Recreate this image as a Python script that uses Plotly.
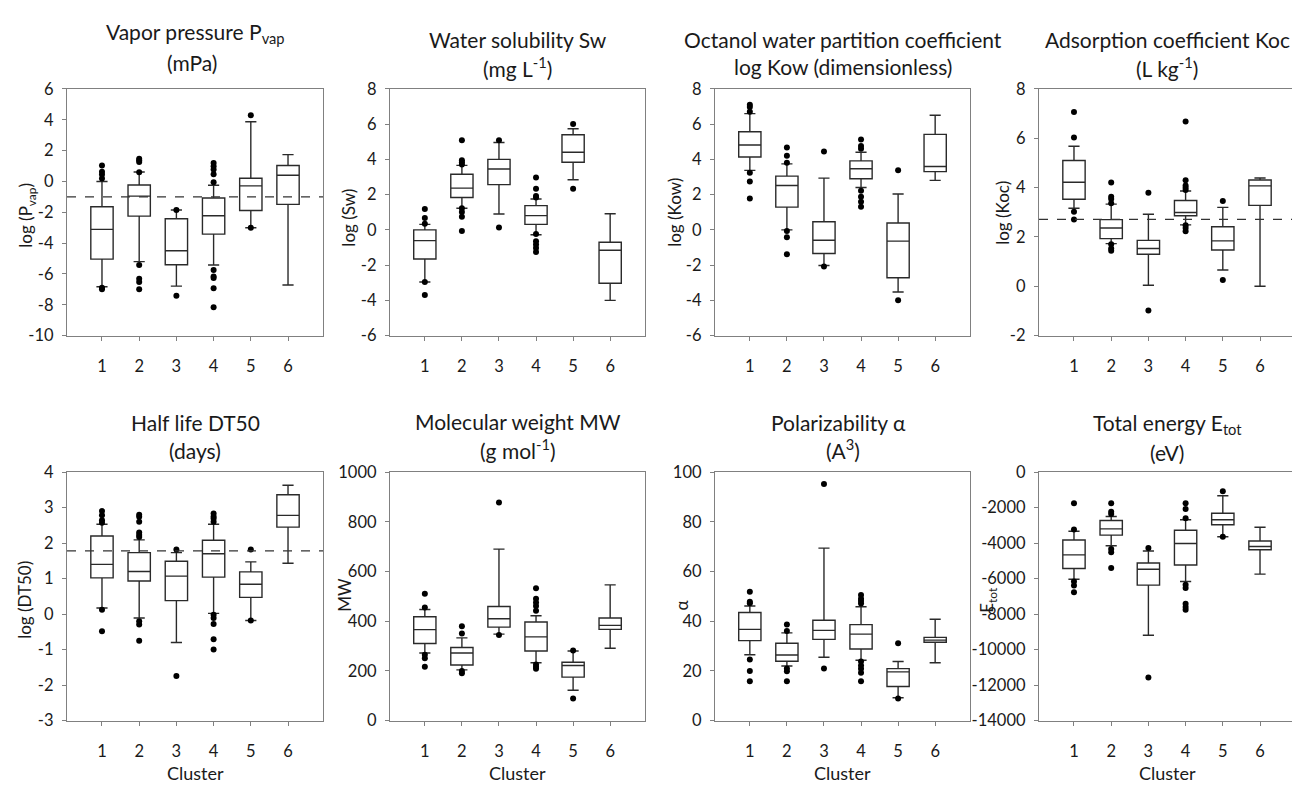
import plotly.graph_objects as go

W, H = 1292, 793
CLUSTERS = [1, 2, 3, 4, 5, 6]
CLUSTER_LABELS = ["1", "2", "3", "4", "5", "6"]

# ---- Vapor pressure (log Pvap)
PVAP_Q1 = [-5.04, -2.25, -5.40, -3.42, -1.89, -1.49]
PVAP_MED = [-3.11, -0.95, -4.50, -2.23, -0.29, 0.40]
PVAP_Q3 = [-1.64, -0.23, -2.42, -1.07, 0.21, 1.03]
PVAP_LO = [-6.83, -5.20, -6.79, -5.42, -3.00, -6.72]
PVAP_HI = [0.00, 0.61, -1.85, -0.25, 3.87, 1.74]
PVAP_OUT = [[1.03, 0.63, 0.45, 0.19, -6.90, -7.00],
            [1.47, 1.37, 1.26, 0.60, -5.42, -6.32, -6.53, -7.00],
            [-1.85, -7.42],
            [1.20, 0.99, 0.78, 0.46, -0.06, -5.74, -6.16, -6.26, -6.93, -8.17],
            [4.29, -3.00], []]
PVAP_REF = -1.0
PVAP_TICKS = [6, 4, 2, 0, -2, -4, -6, -8, -10]

# ---- Water solubility (log Sw)
SW_Q1 = [-1.65, 1.84, 2.57, 0.31, 3.84, -3.03]
SW_MED = [-0.61, 2.37, 3.46, 0.81, 4.41, -1.16]
SW_Q3 = [0.00, 3.16, 4.00, 1.38, 5.40, -0.70]
SW_LO = [-2.96, 1.23, 0.90, -0.28, 2.85, -4.00]
SW_HI = [0.31, 3.66, 4.96, 1.75, 5.74, 0.92]
SW_OUT = [[1.19, 0.68, 0.35, -2.96, -3.69],
          [5.09, 3.95, 3.84, 3.71, 1.23, 1.01, 0.74, -0.06],
          [5.09, 0.13],
          [2.98, 2.33, 1.93, 1.84, -0.24, -0.64, -0.83, -1.03, -1.25],
          [6.01, 2.33], []]
SW_TICKS = [8, 6, 4, 2, 0, -2, -4, -6]

# ---- Octanol water partition coefficient (log Kow)
KOW_Q1 = [4.14, 1.29, -1.34, 2.90, -2.72, 3.31]
KOW_MED = [4.82, 2.52, -0.59, 3.47, -0.64, 3.60]
KOW_Q3 = [5.57, 3.05, 0.46, 3.92, 0.39, 5.42]
KOW_LO = [3.38, 0.00, -2.02, 2.41, -3.53, 2.81]
KOW_HI = [6.60, 3.75, 2.94, 4.41, 2.04, 6.51]
KOW_OUT = [[7.11, 6.97, 6.71, 3.25, 2.74, 1.78],
           [4.67, 4.21, 3.81, -0.06, -0.42, -1.38],
           [4.45, -2.08],
           [5.13, 4.76, 4.60, 2.22, 1.88, 1.60, 1.32],
           [3.38, -4.00], []]
KOW_TICKS = [8, 6, 4, 2, 0, -2, -4, -6]

# ---- Adsorption coefficient (log Koc)
KOC_Q1 = [3.53, 1.93, 1.30, 2.86, 1.47, 3.28]
KOC_MED = [4.22, 2.36, 1.53, 2.99, 1.84, 4.07]
KOC_Q3 = [5.10, 2.70, 1.86, 3.48, 2.41, 4.31]
KOC_LO = [3.16, 1.73, 0.04, 2.49, 0.66, 0.00]
KOC_HI = [5.68, 3.33, 2.92, 3.86, 3.20, 4.39]
KOC_OUT = [[7.07, 6.03, 3.02, 2.71],
           [4.21, 3.63, 3.54, 3.37, 1.70, 1.53, 1.44],
           [3.79, -0.98],
           [6.68, 4.30, 4.09, 3.99, 3.90, 2.47, 2.36, 2.23],
           [3.46, 0.25], []]
KOC_REF = 2.71
KOC_TICKS = [8, 6, 4, 2, 0, -2]

# ---- Half life (log DT50)
DT50_Q1 = [1.02, 0.93, 0.38, 1.04, 0.47, 2.45]
DT50_MED = [1.40, 1.20, 1.07, 1.70, 0.84, 2.78]
DT50_Q3 = [2.20, 1.73, 1.49, 2.08, 1.19, 3.36]
DT50_LO = [0.17, -0.11, -0.80, 0.02, -0.18, 1.43]
DT50_HI = [2.53, 2.09, 1.73, 2.53, 1.47, 3.63]
DT50_OUT = [[2.90, 2.78, 2.64, 2.57, 0.12, -0.48],
            [2.80, 2.74, 2.60, 2.30, 2.23, 2.17, -0.20, -0.29, -0.75],
            [1.82, -1.74],
            [2.83, 2.75, 2.69, 2.60, -0.02, -0.11, -0.28, -0.71, -1.00],
            [1.82, -0.18], []]
DT50_REF = 1.78
DT50_TICKS = [4, 3, 2, 1, 0, -1, -2, -3]

# ---- Molecular weight (MW)
MW_Q1 = [310, 224, 376, 280, 175, 367]
MW_MED = [366, 272, 410, 337, 222, 383]
MW_Q3 = [418, 294, 459, 397, 235, 413]
MW_LO = [272, 204, 348, 233, 122, 291]
MW_HI = [447, 333, 690, 422, 280, 546]
MW_OUT = [[510, 455, 265, 251, 217],
          [380, 350, 200, 191],
          [877, 344],
          [533, 490, 475, 461, 442, 226, 217, 209],
          [282, 89], []]
MW_TICKS = [1000, 800, 600, 400, 200, 0]

# ---- Polarizability (alpha)
POL_Q1 = [32.2, 23.9, 32.7, 28.8, 13.7, 31.5]
POL_MED = [36.7, 26.4, 36.3, 34.8, 19.6, 32.4]
POL_Q3 = [43.5, 31.1, 40.4, 38.6, 20.9, 33.5]
POL_LO = [26.5, 22.0, 25.5, 24.3, 9.2, 23.3]
POL_HI = [46.1, 35.3, 69.4, 45.8, 23.8, 40.8]
POL_OUT = [[51.8, 47.8, 47.2, 24.6, 20.0, 15.8],
           [38.7, 36.1, 21.0, 19.9, 15.8],
           [95.2, 21.0],
           [50.5, 49.0, 48.1, 47.1, 23.8, 22.2, 20.9, 19.3, 15.8],
           [31.1, 8.9], []]
POL_TICKS = [100, 80, 60, 40, 20, 0]

# ---- Total energy (Etot)
ETOT_Q1 = [-5435, -3550, -6369, -5234, -2965, -4374]
ETOT_MED = [-4667, -3203, -5472, -4026, -2690, -4191]
ETOT_Q3 = [-3825, -2727, -5125, -3276, -2324, -3880]
ETOT_LO = [-6040, -4155, -9188, -6168, -3642, -5747]
ETOT_HI = [-3331, -2507, -4447, -2690, -1336, -3111]
ETOT_OUT = [[-1757, -3240, -6168, -6388, -6772],
            [-1757, -2233, -2361, -4337, -4520, -5399],
            [-4283, -11567],
            [-1757, -2086, -2599, -6351, -6534, -7412, -7595, -7760],
            [-1080, -3642], []]
ETOT_TICKS = [0, -2000, -4000, -6000, -8000, -10000, -12000, -14000]

FONT = "Lato"
TXT = "#1a1a1a"
FRAME = "#808080"
BOXLINE = "#2a2a2a"
TITLE_SIZE = 21
TICK_SIZE = 16.5
YTITLE_SIZE = 17
XTITLE_SIZE = 18

panels = [
    dict(q1=PVAP_Q1, med=PVAP_MED, q3=PVAP_Q3, lo=PVAP_LO, hi=PVAP_HI, out=PVAP_OUT,
         ticks=PVAP_TICKS, ref=PVAP_REF,
         t1="Vapor pressure P<sub>vap</sub>", t2="(mPa)", t1x=195, t2x=192,
         t1y=24, t2y=54,
         yt="log (P<sub>vap</sub>)", ytx=27, yty=210),
    dict(q1=SW_Q1, med=SW_MED, q3=SW_Q3, lo=SW_LO, hi=SW_HI, out=SW_OUT,
         ticks=SW_TICKS, ref=None,
         t1="Water solubility Sw", t2="(mg L<sup>-1</sup>)", t1y=30, t2y=58,
         yt="log (Sw)", ytx=349, yty=213),
    dict(q1=KOW_Q1, med=KOW_MED, q3=KOW_Q3, lo=KOW_LO, hi=KOW_HI, out=KOW_OUT,
         ticks=KOW_TICKS, ref=None,
         t1="Octanol water partition coefficient", t2="log Kow (dimensionless)", t1y=30, t2y=58,
         yt="log (Kow)", ytx=675, yty=208),
    dict(q1=KOC_Q1, med=KOC_MED, q3=KOC_Q3, lo=KOC_LO, hi=KOC_HI, out=KOC_OUT,
         ticks=KOC_TICKS, ref=KOC_REF,
         t1="Adsorption coefficient Koc", t2="(L kg<sup>-1</sup>)", t1y=30, t2y=58,
         yt="log (Koc)", ytx=1003, yty=208),
    dict(q1=DT50_Q1, med=DT50_MED, q3=DT50_Q3, lo=DT50_LO, hi=DT50_HI, out=DT50_OUT,
         ticks=DT50_TICKS, ref=DT50_REF,
         t1="Half life DT50", t2="(days)", t1y=423, t2y=452,
         yt="log (DT50)", ytx=25, yty=605),
    dict(q1=MW_Q1, med=MW_MED, q3=MW_Q3, lo=MW_LO, hi=MW_HI, out=MW_OUT,
         ticks=MW_TICKS, ref=None,
         t1="Molecular weight MW", t2="(g mol<sup>-1</sup>)", t1y=422, t2y=450,
         yt="MW", ytx=345, yty=600),
    dict(q1=POL_Q1, med=POL_MED, q3=POL_Q3, lo=POL_LO, hi=POL_HI, out=POL_OUT,
         ticks=POL_TICKS, ref=None,
         t1="Polarizability α", t2="(A<sup>3</sup>)", t1x=838, t1y=423, t2y=450,
         yt="α", ytx=682, yty=611),
    dict(q1=ETOT_Q1, med=ETOT_MED, q3=ETOT_Q3, lo=ETOT_LO, hi=ETOT_HI, out=ETOT_OUT,
         ticks=ETOT_TICKS, ref=None,
         t1="Total energy E<sub>tot</sub>", t2="(eV)", t1y=425, t2y=454,
         yt="E<sub>tot</sub>", ytx=988, yty=605),
]

COLS = [(67, 323), (390, 645), (715, 970), (1039, 1295)]
ROWS = [(81, 334), (474, 729)]
XR = (0.06, 6.94)

fig = go.Figure()
layout = dict(width=W, height=H, margin=dict(l=0, r=0, t=0, b=0),
              paper_bgcolor="white", plot_bgcolor="white", showlegend=False,
              font=dict(family=FONT, size=TICK_SIZE, color=TXT))
shapes, annotations = [], []

for i, p in enumerate(panels):
    n = i + 1
    r, c = divmod(i, 4)
    x0, x1 = COLS[c]
    y0, y1 = ROWS[r]
    xr1 = XR[1]
    if x1 > W:
        xr1 = XR[0] + (W - x0) / (x1 - x0) * (XR[1] - XR[0])
        x1 = W
    xa = "xaxis" if n == 1 else f"xaxis{n}"
    ya = "yaxis" if n == 1 else f"yaxis{n}"
    xs = "x" if n == 1 else f"x{n}"
    ys = "y" if n == 1 else f"y{n}"
    ticks = p["ticks"]
    layout[xa] = dict(domain=[x0 / W, x1 / W], anchor=ys, range=[XR[0], xr1],
                      tickvals=CLUSTERS, ticktext=CLUSTER_LABELS, ticks="outside",
                      ticklen=4, tickcolor=FRAME, showline=True, linecolor=FRAME,
                      linewidth=1.3, mirror=True, showgrid=False, zeroline=False,
                      ticklabelstandoff=11,
                      tickfont=dict(size=TICK_SIZE, family=FONT, color=TXT))
    layout[ya] = dict(domain=[1 - y1 / H, 1 - y0 / H], anchor=xs,
                      range=[min(ticks), max(ticks)], tickvals=ticks,
                      ticktext=[str(t) for t in ticks], ticks="outside", ticklen=4,
                      tickcolor=FRAME, showline=True, linecolor=FRAME, linewidth=1.3,
                      mirror=(c != 3), showgrid=False, zeroline=False,
                      ticklabelstandoff=5,
                      tickfont=dict(size=TICK_SIZE, family=FONT, color=TXT))
    fig.add_trace(go.Box(x=CLUSTERS, q1=p["q1"], median=p["med"], q3=p["q3"],
                         lowerfence=p["lo"], upperfence=p["hi"], width=0.6,
                         whiskerwidth=0.5, fillcolor="white", boxpoints=False,
                         line=dict(color=BOXLINE, width=1.4), xaxis=xs, yaxis=ys,
                         hoverinfo="skip"))
    ox, oy = [], []
    for k, vals in enumerate(p["out"]):
        for v in vals:
            ox.append(CLUSTERS[k])
            oy.append(v)
    fig.add_trace(go.Scatter(x=ox, y=oy, mode="markers", xaxis=xs, yaxis=ys,
                             marker=dict(color="black", size=6), hoverinfo="skip"))
    if p["ref"] is not None:
        shapes.append(dict(type="line", xref=f"{xs} domain", yref=ys, x0=0, x1=1,
                           y0=p["ref"], y1=p["ref"],
                           line=dict(color="#333333", width=1.3, dash="dash")))
    cx = (COLS[c][0] + COLS[c][1]) / 2
    annotations.append(dict(text=p["t1"], x=p.get("t1x", cx) / W, y=1 - p["t1y"] / H,
                            xref="paper", yref="paper", showarrow=False,
                            xanchor="center", yanchor="middle",
                            font=dict(size=TITLE_SIZE, family=FONT, color=TXT)))
    annotations.append(dict(text=p["t2"], x=p.get("t2x", cx) / W, y=1 - p["t2y"] / H,
                            xref="paper", yref="paper", showarrow=False,
                            xanchor="center", yanchor="middle",
                            font=dict(size=TITLE_SIZE, family=FONT, color=TXT)))
    annotations.append(dict(text=p["yt"], x=p["ytx"] / W, y=1 - p["yty"] / H,
                            xref="paper", yref="paper", showarrow=False, textangle=-90,
                            xanchor="center", yanchor="middle",
                            font=dict(size=YTITLE_SIZE, family=FONT, color=TXT)))
    if r == 1:
        annotations.append(dict(text="Cluster", x=cx / W, y=1 - 783 / H,
                                xref="paper", yref="paper", showarrow=False,
                                xanchor="center", yanchor="middle",
                                font=dict(size=XTITLE_SIZE, family=FONT, color=TXT)))

layout["shapes"] = shapes
layout["annotations"] = annotations
fig.update_layout(**layout)
fig.write_html("out.html")
